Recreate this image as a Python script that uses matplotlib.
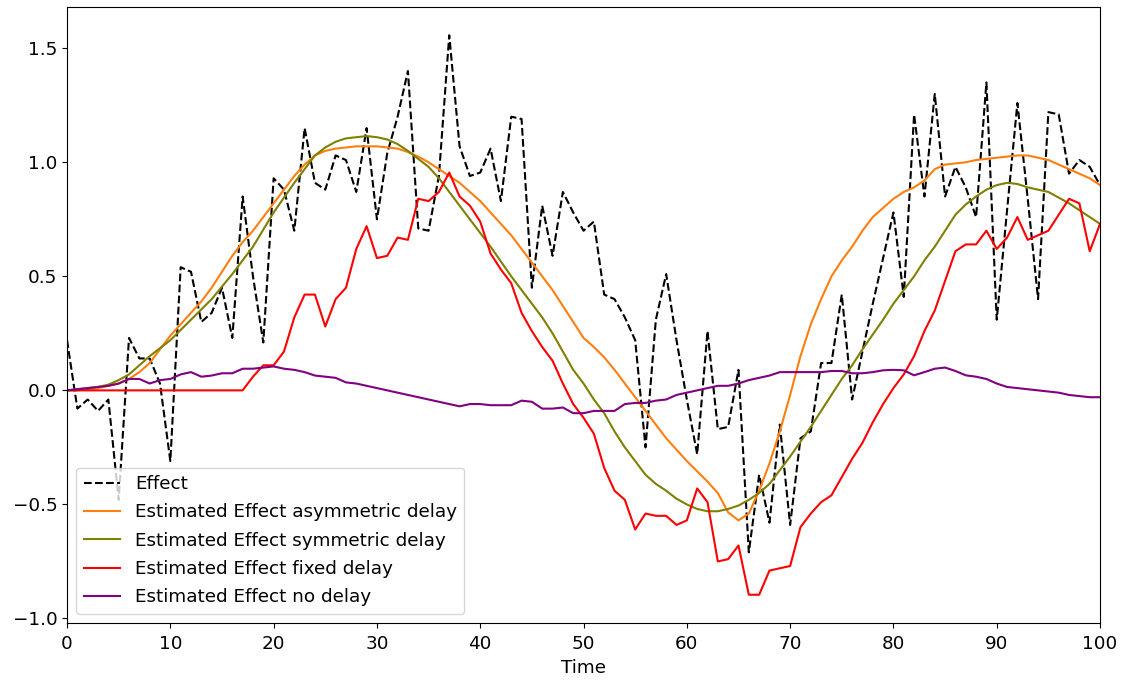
import numpy as np
import matplotlib.pyplot as plt

plt.rcParams['font.size'] = 13.2
plt.rcParams['xtick.major.pad'] = 5.5

# time axis, one sample per step
time = np.arange(0, 101)
xticks = list(range(0, 101, 10))

effect = [
    0.22, -0.08, -0.04, -0.09, -0.04, -0.48, 0.23, 0.14, 0.14, 0.03,
    -0.31, 0.54, 0.52, 0.30, 0.34, 0.45, 0.23, 0.85, 0.50, 0.21,
    0.93, 0.88, 0.70, 1.15, 0.91, 0.88, 1.03, 1.01, 0.87, 1.15,
    0.75, 1.04, 1.20, 1.40, 0.71, 0.70, 0.94, 1.557, 1.07, 0.94,
    0.955, 1.06, 0.83, 1.20, 1.19, 0.45, 0.81, 0.59, 0.87, 0.78,
    0.70, 0.74, 0.42, 0.40, 0.32, 0.22, -0.25, 0.31, 0.51, 0.22,
    -0.04, -0.28, 0.26, -0.17, -0.16, 0.09, -0.71, -0.37, -0.58, -0.15,
    -0.59, -0.21, -0.18, 0.12, 0.12, 0.42, -0.04, 0.17, 0.38, 0.58,
    0.78, 0.41, 1.21, 0.85, 1.30, 0.85, 0.98, 0.89, 0.76, 1.35,
    0.31, 0.79, 1.26, 0.84, 0.40, 1.22, 1.21, 0.95, 1.01, 0.98,
    0.90,
]

est_asymmetric = [
    0.0, 0.0, 0.005, 0.01, 0.02, 0.03, 0.05, 0.08, 0.12, 0.18,
    0.24, 0.29, 0.34, 0.39, 0.45, 0.52, 0.59, 0.65, 0.70, 0.76,
    0.82, 0.88, 0.94, 0.99, 1.03, 1.05, 1.06, 1.065, 1.07, 1.07,
    1.07, 1.065, 1.06, 1.045, 1.025, 1.0, 0.97, 0.94, 0.91, 0.87,
    0.83, 0.78, 0.73, 0.68, 0.62, 0.56, 0.50, 0.44, 0.37, 0.30,
    0.23, 0.19, 0.145, 0.09, 0.03, -0.03, -0.09, -0.15, -0.21, -0.26,
    -0.31, -0.355, -0.40, -0.45, -0.535, -0.57, -0.54, -0.44, -0.32, -0.18,
    -0.02, 0.15, 0.29, 0.40, 0.50, 0.57, 0.63, 0.70, 0.76, 0.80,
    0.84, 0.87, 0.89, 0.92, 0.97, 0.99, 0.995, 1.0, 1.01, 1.015,
    1.02, 1.025, 1.03, 1.03, 1.02, 1.01, 0.99, 0.97, 0.95, 0.93,
    0.90,
]

est_symmetric = [
    0.0, 0.005, 0.01, 0.015, 0.025, 0.045, 0.07, 0.11, 0.15, 0.185,
    0.22, 0.265, 0.31, 0.355, 0.40, 0.455, 0.51, 0.57, 0.63, 0.705,
    0.78, 0.845, 0.91, 0.97, 1.03, 1.065, 1.09, 1.105, 1.11, 1.115,
    1.11, 1.10, 1.08, 1.05, 1.015, 0.98, 0.93, 0.87, 0.81, 0.75,
    0.69, 0.63, 0.565, 0.50, 0.44, 0.38, 0.32, 0.25, 0.17, 0.09,
    0.03, -0.04, -0.10, -0.18, -0.25, -0.31, -0.37, -0.41, -0.44, -0.475,
    -0.50, -0.52, -0.53, -0.53, -0.52, -0.505, -0.48, -0.45, -0.41, -0.35,
    -0.29, -0.225, -0.16, -0.09, -0.02, 0.05, 0.11, 0.18, 0.245, 0.31,
    0.38, 0.44, 0.50, 0.57, 0.63, 0.70, 0.77, 0.815, 0.85, 0.88,
    0.90, 0.91, 0.905, 0.89, 0.88, 0.87, 0.845, 0.82, 0.79, 0.76,
    0.73,
]

est_fixed = [
    0.0, 0.0, 0.0, 0.0, 0.0, 0.0, 0.0, 0.0, 0.0, 0.0,
    0.0, 0.0, 0.0, 0.0, 0.0, 0.0, 0.0, 0.0, 0.06, 0.11,
    0.11, 0.17, 0.32, 0.42, 0.42, 0.28, 0.40, 0.45, 0.62, 0.72,
    0.58, 0.59, 0.67, 0.66, 0.84, 0.83, 0.87, 0.955, 0.85, 0.81,
    0.74, 0.60, 0.53, 0.47, 0.34, 0.26, 0.19, 0.13, 0.03, -0.06,
    -0.12, -0.19, -0.34, -0.44, -0.48, -0.61, -0.54, -0.55, -0.55, -0.59,
    -0.57, -0.43, -0.49, -0.75, -0.74, -0.68, -0.896, -0.896, -0.79, -0.78,
    -0.77, -0.60, -0.54, -0.49, -0.46, -0.38, -0.30, -0.23, -0.14, -0.06,
    0.01, 0.07, 0.15, 0.26, 0.35, 0.48, 0.61, 0.64, 0.64, 0.70,
    0.62, 0.67, 0.76, 0.66, 0.68, 0.70, 0.77, 0.84, 0.82, 0.61,
    0.73,
]

est_no_delay = [
    0.0, 0.005, 0.01, 0.015, 0.02, 0.03, 0.05, 0.05, 0.03, 0.045,
    0.05, 0.07, 0.08, 0.06, 0.065, 0.075, 0.075, 0.095, 0.095, 0.10,
    0.105, 0.095, 0.09, 0.08, 0.065, 0.06, 0.055, 0.035, 0.03, 0.02,
    0.01, 0.0, -0.01, -0.02, -0.03, -0.04, -0.05, -0.06, -0.07, -0.06,
    -0.06, -0.065, -0.065, -0.065, -0.045, -0.05, -0.08, -0.08, -0.075, -0.10,
    -0.10, -0.09, -0.09, -0.09, -0.06, -0.055, -0.055, -0.045, -0.04, -0.02,
    -0.01, 0.0, 0.01, 0.02, 0.02, 0.03, 0.045, 0.055, 0.065, 0.08,
    0.08, 0.08, 0.08, 0.08, 0.085, 0.085, 0.075, 0.075, 0.08, 0.088,
    0.09, 0.088, 0.066, 0.08, 0.095, 0.10, 0.085, 0.066, 0.06, 0.05,
    0.03, 0.015, 0.01, 0.005, 0.0, -0.005, -0.01, -0.02, -0.025, -0.03,
    -0.03,
]

fig, ax = plt.subplots(figsize=(11.21, 6.81), dpi=100)
fig.subplots_adjust(left=0.0598, right=0.9813, bottom=0.0856, top=0.9893)

ax.plot(time, effect, 'k--', label='Effect')
ax.plot(time, est_asymmetric, color='C1', label='Estimated Effect asymmetric delay')
ax.plot(time, est_symmetric, color='olive', label='Estimated Effect symmetric delay')
ax.plot(time, est_fixed, color='red', label='Estimated Effect fixed delay')
ax.plot(time, est_no_delay, color='purple', label='Estimated Effect no delay')

ax.set_xlim(0, 100)
ax.set_xticks(xticks)
ax.set_xlabel('Time')
ax.legend(loc='lower left', labelspacing=0.56)

fig.savefig('out.png', dpi=100)
